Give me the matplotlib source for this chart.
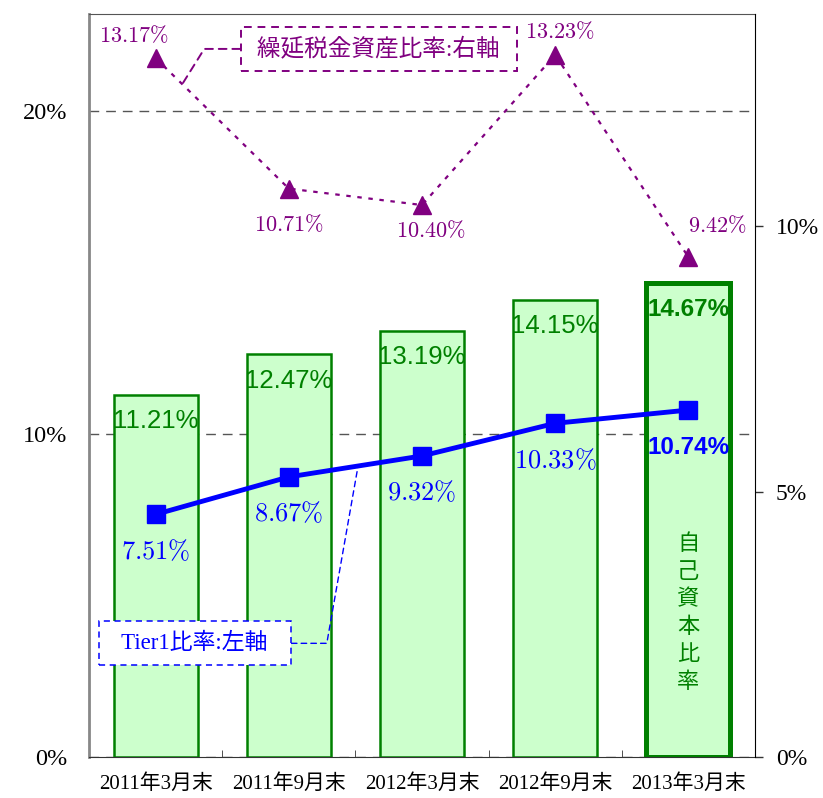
import matplotlib
matplotlib.use("Agg")
import matplotlib.pyplot as plt
import numpy as np

plt.rcParams["mathtext.fontset"] = "cm"

periods = ["2011年3月末", "2011年9月末", "2012年3月末", "2012年9月末", "2013年3月末"]
capital_ratio = [11.21, 12.47, 13.19, 14.15, 14.67]   # 自己資本比率 (left axis, bars)
tier1_ratio = [7.51, 8.67, 9.32, 10.33, 10.74]         # Tier1比率 (left axis, line)
dta_ratio = [13.17, 10.71, 10.40, 13.23, 9.42]         # 繰延税金資産比率 (right axis)
left_ticks = [0, 10, 20]
right_ticks = [0, 5, 10]

GREEN = "#008000"
BLUE = "#0000ff"
PURPLE = "#800080"
SERIF_JP = ["Liberation Serif", "Noto Sans CJK JP"]

# label offsets for the purple series, in pixels (dx, dy)
dta_offsets = [(-22, 23), (0, -36), (9, -25), (5, 24), (29, 32)]

fig = plt.figure(figsize=(8.23, 7.98), dpi=100)
ax = fig.add_axes([89 / 823, 1 - 757 / 798, 666 / 823, 743 / 798])
x = np.arange(len(periods))

ax.set_axisbelow(True)
ax.yaxis.grid(True, color="#555555", linestyle=(0, (7, 5)), linewidth=1)

lw_edges = [1.8] * (len(x) - 1) + [3.6]
ax.bar(x, capital_ratio, width=0.63, color="#ccffcc", edgecolor=GREEN,
       linewidth=lw_edges, zorder=2)
ax.plot(x, tier1_ratio, color=BLUE, linewidth=3.5, marker="s", markersize=13,
        zorder=4)

ax.set_xlim(-0.5, 4.5)
ax.set_ylim(0, 23)
ax.set_yticks(left_ticks)
ax.set_yticklabels([f"{t}%" for t in left_ticks])
ax.set_xticks(x)
ax.set_xticklabels(periods)
ax.set_xticks(x[:-1] + 0.5, minor=True)
ax.tick_params(axis="x", which="major", length=0, pad=12.5)
ax.tick_params(axis="x", which="minor", direction="in", length=5, color="#333333")
ax.tick_params(axis="y", length=0, pad=15.5)
for lab in ax.get_xticklabels():
    lab.set_family(SERIF_JP)
    lab.set_fontsize(15)
for lab in ax.get_yticklabels():
    lab.set_family("Liberation Serif")
    lab.set_fontsize(17.5)

ax.spines["left"].set_color("#888888")
ax.spines["left"].set_linewidth(2)
ax.spines["top"].set_color("#555555")
ax.spines["bottom"].set_color("#333333")
ax.spines["right"].set_visible(False)

# bar value labels
for i, v in enumerate(capital_ratio):
    last = i == len(x) - 1
    ax.annotate(f"{v:.2f}%", (x[i], v), xytext=(0, -19), textcoords="offset points",
                ha="center", va="center", color=GREEN,
                fontsize=17.5 if last else 18.5,
                family="Liberation Sans", fontweight="bold" if last else "normal",
                zorder=5)

# tier1 labels
for i, v in enumerate(tier1_ratio):
    last = i == len(x) - 1
    if last:
        ax.annotate(f"{v:.2f}%", (x[i], v), xytext=(0, -27), textcoords="offset points",
                    ha="center", va="center", color=BLUE, fontsize=17.5,
                    family="Liberation Sans", fontweight="bold", zorder=5)
    else:
        ax.annotate(rf"${v:.2f}\%$", (x[i], v), xytext=(0, -27),
                    textcoords="offset points", ha="center", va="center",
                    color=BLUE, fontsize=19, zorder=5)

ax.text(x[-1], 4.48, "\n".join("自己資本比率"), ha="center", va="center",
        color=GREEN, fontsize=16, family="Noto Sans CJK JP", linespacing=1.25,
        zorder=5)

# Tier1 callout box
t = 0.52
ax.annotate("  Tier1比率:左軸  ", xy=(x[1] + t, tier1_ratio[1] + t * (tier1_ratio[2] - tier1_ratio[1])),
            xytext=(0.159, 0.153), textcoords="axes fraction",
            ha="center", va="center", color=BLUE, fontsize=16.5, family=SERIF_JP,
            bbox=dict(boxstyle="square,pad=0.5", fc="white", ec=BLUE,
                      ls=(0, (4, 3)), lw=1.1),
            arrowprops=dict(arrowstyle="-", color=BLUE, lw=1, ls=(0, (4, 3)),
                            connectionstyle="angle,angleA=0,angleB=80,rad=0",
                            shrinkA=0, shrinkB=0),
            zorder=6)

# right axis
ax2 = ax.twinx()
ax2.set_ylim(0, 14)
ax2.plot(x, dta_ratio, color=PURPLE, linewidth=1.6, linestyle=(0, (2, 3)),
         marker="^", markersize=13)
ax2.set_yticks(right_ticks)
ax2.set_yticklabels([f"{t}%" for t in right_ticks])
ax2.tick_params(axis="y", direction="out", length=6, width=1, pad=9, color="#333333")
for lab in ax2.get_yticklabels():
    lab.set_family("Liberation Serif")
    lab.set_fontsize(17)
for side in ["left", "top", "bottom"]:
    ax2.spines[side].set_visible(False)
ax2.spines["right"].set_color("black")

for i, v in enumerate(dta_ratio):
    dx, dy = dta_offsets[i]
    ax2.annotate(rf"${v:.2f}\%$", (x[i], v), xytext=(dx * 0.72, dy * 0.72),
                 textcoords="offset points", ha="center", va="center",
                 color=PURPLE, fontsize=16)

t = 0.2
ax2.annotate(" 繰延税金資産比率:右軸 ", xy=(x[0] + t, dta_ratio[0] + t * (dta_ratio[1] - dta_ratio[0])),
             xytext=(0.435, 0.953), textcoords="axes fraction",
             ha="center", va="center", color=PURPLE, fontsize=17, family=SERIF_JP,
             bbox=dict(boxstyle="square,pad=0.45", fc="white", ec=PURPLE,
                       ls=(0, (4, 3)), lw=1.4),
             arrowprops=dict(arrowstyle="-", color=PURPLE, lw=1.4, ls=(0, (4, 3)),
                             connectionstyle="angle,angleA=0,angleB=58,rad=0",
                             shrinkA=0, shrinkB=0))

fig.savefig("out.png", dpi=100)
